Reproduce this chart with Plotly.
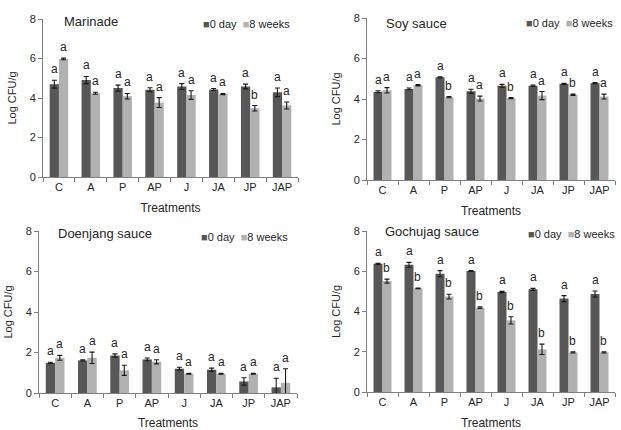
import plotly.graph_objects as go

W, H = 621, 430

categories = ["C", "A", "P", "AP", "J", "JA", "JP", "JAP"]
series_names = ["0 day", "8 weeks"]

# Marinade
marinade_0 = [4.70, 4.91, 4.50, 4.42, 4.58, 4.43, 4.58, 4.29]
marinade_0_err = [0.20, 0.18, 0.15, 0.10, 0.15, 0.05, 0.12, 0.22]
marinade_8 = [5.98, 4.24, 4.09, 3.77, 4.15, 4.20, 3.48, 3.62]
marinade_8_err = [0.04, 0.05, 0.14, 0.25, 0.22, 0.03, 0.14, 0.18]
marinade_0_let = ["a"] * 8
marinade_8_let = ["a", "a", "a", "a", "a", "a", "b", "a"]

# Soy sauce
soy_0 = [4.36, 4.50, 5.07, 4.38, 4.65, 4.66, 4.75, 4.78]
soy_0_err = [0.05, 0.04, 0.03, 0.10, 0.07, 0.03, 0.03, 0.03]
soy_8 = [4.43, 4.68, 4.09, 4.02, 4.04, 4.17, 4.21, 4.12]
soy_8_err = [0.13, 0.03, 0.03, 0.12, 0.03, 0.20, 0.03, 0.12]
soy_0_let = ["a"] * 8
soy_8_let = ["a", "a", "b", "a", "b", "a", "b", "a"]

# Doenjang sauce
doen_0 = [1.49, 1.61, 1.85, 1.66, 1.20, 1.15, 0.57, 0.28]
doen_0_err = [0.03, 0.03, 0.08, 0.07, 0.07, 0.08, 0.18, 0.45]
doen_8 = [1.74, 1.74, 1.12, 1.54, 0.95, 0.95, 0.95, 0.50]
doen_8_err = [0.12, 0.28, 0.25, 0.10, 0.02, 0.02, 0.02, 0.70]
doen_0_let = ["a"] * 8
doen_8_let = ["a"] * 8

# Gochujag sauce
gochu_0 = [6.37, 6.32, 5.88, 6.01, 4.97, 5.10, 4.64, 4.87]
gochu_0_err = [0.03, 0.12, 0.15, 0.02, 0.03, 0.05, 0.15, 0.15]
gochu_8 = [5.51, 5.15, 4.74, 4.19, 3.56, 2.12, 1.97, 1.97]
gochu_8_err = [0.10, 0.02, 0.12, 0.04, 0.18, 0.26, 0.03, 0.03]
gochu_0_let = ["a"] * 8
gochu_8_let = ["b"] * 8

panel_titles = ["Marinade", "Soy sauce", "Doenjang sauce", "Gochujag sauce"]
y_ticks = [0, 2, 4, 6, 8]

panels = [
    (marinade_0, marinade_0_err, marinade_8, marinade_8_err, marinade_0_let, marinade_8_let),
    (soy_0, soy_0_err, soy_8, soy_8_err, soy_0_let, soy_8_let),
    (doen_0, doen_0_err, doen_8, doen_8_err, doen_0_let, doen_8_let),
    (gochu_0, gochu_0_err, gochu_8, gochu_8_err, gochu_0_let, gochu_8_let),
]

# pixel boxes: (left, right, top(y=8), bottom(y=0))
boxes = [(43, 298, 19, 177), (367, 615, 18, 180), (39, 297, 231, 393), (367, 615, 231, 392)]
title_pos = [(62, 22), (384, 23), (56, 233), (383, 231)]
legend_pos = [(292, 24), (615, 23), (290, 237), (617, 234)]

DARK = "#575757"
LIGHT = "#b1b1b1"
FONT = "Liberation Sans, Arial, sans-serif"
TXT = "#262626"
BARGAP = 0.42

fig = go.Figure()
annotations = []
for i, (v0, e0, v8, e8, l0, l8) in enumerate(panels):
    n = i + 1
    xa = "x" if n == 1 else f"x{n}"
    ya = "y" if n == 1 else f"y{n}"
    for vals, errs, col, name in [(v0, e0, DARK, series_names[0]), (v8, e8, LIGHT, series_names[1])]:
        fig.add_trace(go.Bar(
            x=categories, y=vals, name=name, marker=dict(color=col, line=dict(width=0)),
            error_y=dict(type="data", array=errs, visible=True, color="#1a1a1a", thickness=1.1, width=2.5),
            xaxis=xa, yaxis=ya, showlegend=False,
        ))
    left, right, top, bottom = boxes[i]
    catw = (right - left) / len(categories)
    barw = catw * (1 - BARGAP) / 2
    for vals, errs, lets, sgn in [(v0, e0, l0, -1), (v8, e8, l8, 1)]:
        for c, v, e, t in zip(categories, vals, errs, lets):
            annotations.append(dict(
                x=c, y=v + e, xref=xa, yref=ya, text=t, showarrow=False,
                xanchor="center", yanchor="bottom", xshift=sgn * barw / 2, yshift=2,
                font=dict(family=FONT, size=12, color=TXT),
            ))
    # panel title
    tx, ty = title_pos[i]
    annotations.append(dict(x=tx / W, y=1 - ty / H, xref="paper", yref="paper", text=panel_titles[i],
                            showarrow=False, xanchor="left", yanchor="middle",
                            font=dict(family=FONT, size=13, color=TXT)))
    # legend
    lx, ly = legend_pos[i]
    annotations.append(dict(
        x=lx / W, y=1 - ly / H, xref="paper", yref="paper",
        text=f"<span style='color:{DARK}'>■</span>{series_names[0]}  <span style='color:{LIGHT}'>■</span>{series_names[1]}",
        showarrow=False, xanchor="right", yanchor="middle",
        font=dict(family=FONT, size=11, color=TXT)))

    xdom = [left / W, right / W]
    ydom = [1 - bottom / H, 1 - top / H]
    xkey = "xaxis" if n == 1 else f"xaxis{n}"
    ykey = "yaxis" if n == 1 else f"yaxis{n}"
    fig.update_layout(**{
        xkey: dict(domain=xdom, anchor=ya, type="category", tickson="boundaries", ticks="outside",
                   ticklen=4, tickcolor="#7f7f7f", showline=True, linecolor="#7f7f7f", linewidth=1,
                   showgrid=False, automargin=False, tickfont=dict(family=FONT, size=11, color=TXT),
                   title=dict(text="Treatments", font=dict(family=FONT, size=12, color=TXT), standoff=11)),
        ykey: dict(domain=ydom, anchor=xa, range=[0, 8], tickvals=y_ticks, ticks="outside", ticklen=4,
                   tickcolor="#7f7f7f", showline=True, linecolor="#7f7f7f", linewidth=1, showgrid=False,
                   zeroline=False, automargin=False, tickfont=dict(family=FONT, size=11, color=TXT),
                   title=dict(text="Log CFU/g", font=dict(family=FONT, size=11, color=TXT), standoff=10)),
    })

fig.update_layout(
    width=W, height=H, margin=dict(l=0, r=0, t=0, b=0, autoexpand=False),
    paper_bgcolor="white", plot_bgcolor="white",
    barmode="group", bargap=BARGAP, bargroupgap=0,
    annotations=annotations, showlegend=False,
)

fig.write_html("out.html")
